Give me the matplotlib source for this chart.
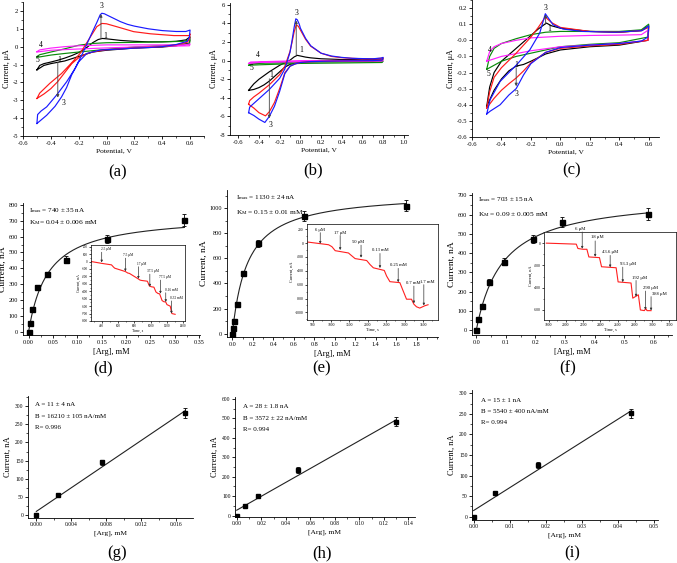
import matplotlib
matplotlib.use('Agg')
import matplotlib.pyplot as plt
import numpy as np
from matplotlib.ticker import AutoMinorLocator, FormatStrFormatter

plt.rcParams['font.family'] = ['Liberation Serif', 'DejaVu Serif']
plt.rcParams['mathtext.fontset'] = 'custom'
plt.rcParams['mathtext.rm'] = 'Liberation Serif'
plt.rcParams['mathtext.it'] = 'Liberation Serif:italic'
plt.rcParams['axes.unicode_minus'] = False

# ---------------- DATA ----------------
# (a) cyclic voltammograms, potential V / current uA (closed loops: forward then reverse)
a_blue_E = [-0.5, -0.495, -0.47, -0.43, -0.36, -0.287, -0.226, -0.166, -0.106, -0.07, -0.046, -0.034, -0.015, 0.0, 0.05, 0.1, 0.15, 0.2, 0.3, 0.4, 0.5, 0.57, 0.6,
            0.595, 0.58, 0.5, 0.4, 0.3, 0.2, 0.1, 0.0, -0.046, -0.142, -0.2, -0.25, -0.287, -0.323, -0.37, -0.43, -0.5]
a_blue_I = [-4.3, -3.8, -3.6, -3.37, -2.72, -1.97, -1.22, -0.28, 0.75, 1.35, 1.78, 1.87, 1.84, 1.78, 1.59, 1.4, 1.25, 1.15, 1.0, 0.9, 0.85, 0.85, 0.93,
            0.55, 0.3, 0.12, 0.0, -0.05, -0.08, -0.13, -0.17, -0.19, -0.38, -0.85, -1.57, -2.29, -2.81, -3.34, -3.84, -4.3]
a_red_E = [-0.5, -0.48, -0.407, -0.323, -0.25, -0.19, -0.13, -0.07, -0.034, 0.0, 0.072, 0.195, 0.316, 0.484, 0.593, 0.6,
           0.595, 0.58, 0.5, 0.4, 0.2, 0.0, -0.1, -0.15, -0.2, -0.25, -0.3, -0.35, -0.4, -0.45, -0.5]
a_red_I = [-2.9, -2.6, -2.05, -1.5, -0.9, -0.38, 0.37, 1.12, 1.3, 1.28, 1.12, 0.84, 0.72, 0.62, 0.62, 0.72,
           0.4, 0.25, 0.1, 0.0, -0.07, -0.17, -0.3, -0.42, -0.62, -0.95, -1.45, -1.95, -2.35, -2.65, -2.9]
a_black_E = [-0.5, -0.48, -0.45, -0.4, -0.35, -0.3, -0.25, -0.2, -0.15, -0.1, -0.06, -0.03, 0.0, 0.1, 0.2, 0.3, 0.4, 0.5, 0.57, 0.6,
             0.595, 0.5, 0.4, 0.2, 0.0, -0.1, -0.2, -0.3, -0.4, -0.45, -0.5]
a_black_I = [-1.3, -1.05, -0.95, -0.86, -0.76, -0.64, -0.5, -0.33, -0.1, 0.22, 0.4, 0.46, 0.44, 0.35, 0.3, 0.27, 0.27, 0.3, 0.38, 0.55,
             0.2, 0.05, -0.02, -0.08, -0.2, -0.3, -0.55, -0.8, -0.95, -1.05, -1.3]
a_green_E = [-0.5, -0.48, -0.4, -0.3, -0.2, -0.1, 0.0, 0.2, 0.4, 0.55, 0.6,
             0.595, 0.5, 0.4, 0.2, 0.0, -0.2, -0.3, -0.4, -0.5]
a_green_I = [-0.55, -0.45, -0.3, -0.12, 0.08, 0.18, 0.22, 0.24, 0.27, 0.3, 0.38,
             0.15, 0.1, 0.06, -0.02, -0.15, -0.3, -0.38, -0.47, -0.6]
a_mag_E = [-0.5, -0.48, -0.4, -0.3, -0.2, 0.0, 0.2, 0.4, 0.55, 0.6,
           0.595, 0.4, 0.2, 0.0, -0.2, -0.4, -0.5]
a_mag_I = [-0.28, -0.18, -0.08, 0.0, 0.05, 0.1, 0.1, 0.1, 0.1, 0.15,
           0.05, 0.02, -0.02, -0.07, -0.13, -0.2, -0.3]

# (b)
b_blue_E = [-0.5, -0.49, -0.45, -0.4, -0.3, -0.2, -0.15, -0.1, -0.08, -0.06, -0.044, -0.03, -0.01, 0.0, 0.05, 0.1, 0.2, 0.3, 0.4, 0.5, 0.6, 0.7, 0.78, 0.8,
            0.79, 0.7, 0.5, 0.3, 0.1, 0.0, -0.05, -0.1, -0.15, -0.2, -0.25, -0.3, -0.343, -0.4, -0.45, -0.5]
b_blue_I = [-5.6, -5.0, -4.6, -4.1, -3.1, -1.9, -0.9, 0.9, 2.2, 3.6, 4.5, 4.4, 3.9, 3.5, 2.4, 1.6, 0.8, 0.5, 0.35, 0.25, 0.22, 0.2, 0.28, 0.35,
            0.05, 0.0, -0.02, -0.05, -0.1, -0.2, -0.35, -0.6, -1.4, -3.3, -4.9, -6.0, -6.65, -6.3, -5.9, -5.6]
b_red_E = [-0.5, -0.49, -0.45, -0.4, -0.3, -0.2, -0.15, -0.1, -0.08, -0.06, -0.04, -0.02, 0.0, 0.05, 0.1, 0.2, 0.3, 0.4, 0.5, 0.6, 0.7, 0.78, 0.8,
           0.79, 0.7, 0.5, 0.3, 0.1, 0.0, -0.05, -0.1, -0.15, -0.2, -0.25, -0.3, -0.337, -0.4, -0.45, -0.5]
b_red_I = [-4.7, -4.3, -3.9, -3.5, -2.6, -1.5, -0.6, 1.0, 2.0, 3.1, 3.84, 3.7, 3.3, 2.3, 1.55, 0.8, 0.45, 0.32, 0.25, 0.2, 0.2, 0.25, 0.3,
           0.05, 0.0, -0.02, -0.05, -0.1, -0.2, -0.35, -0.6, -1.3, -3.0, -4.5, -5.5, -5.94, -5.6, -5.1, -4.7]
b_black_E = [-0.5, -0.48, -0.45, -0.4, -0.3, -0.2, -0.1, -0.06, -0.03, 0.0, 0.05, 0.1, 0.2, 0.4, 0.6, 0.78, 0.8,
             0.79, 0.6, 0.4, 0.2, 0.0, -0.1, -0.15, -0.2, -0.25, -0.3, -0.35, -0.4, -0.45, -0.5]
b_black_I = [-3.2, -2.9, -2.5, -2.0, -1.2, -0.5, 0.05, 0.4, 0.57, 0.5, 0.38, 0.3, 0.2, 0.12, 0.1, 0.15, 0.2,
             0.0, -0.02, -0.05, -0.08, -0.15, -0.4, -0.7, -1.2, -1.7, -2.2, -2.6, -2.9, -3.1, -3.2]
b_green_E = [-0.5, -0.48, -0.4, 0.0, 0.4, 0.78, 0.8, 0.79, 0.4, 0.0, -0.4, -0.5]
b_green_I = [-0.5, -0.35, -0.3, -0.15, -0.1, -0.08, -0.05, -0.2, -0.25, -0.3, -0.45, -0.5]
b_mag_E = [-0.5, -0.48, 0.0, 0.4, 0.8, 0.79, 0.4, 0.0, -0.4, -0.5]
b_mag_I = [-0.3, -0.15, 0.0, 0.02, 0.05, -0.05, -0.08, -0.12, -0.2, -0.3]

# (c)
c_blue_E = [-0.5, -0.477, -0.409, -0.297, -0.207, -0.14, -0.102, -0.05, 0.017, 0.151, 0.376, 0.555, 0.6,
            0.595, 0.55, 0.4, 0.2, 0.0, -0.1, -0.2, -0.25, -0.3, -0.35, -0.409, -0.477, -0.5]
c_blue_I = [-0.457, -0.369, -0.255, -0.152, -0.059, 0.045, 0.165, 0.097, 0.07, 0.055, 0.05, 0.06, 0.09,
            0.02, -0.005, -0.02, -0.03, -0.045, -0.075, -0.145, -0.215, -0.3, -0.34, -0.4, -0.44, -0.457]
c_red_E = [-0.5, -0.48, -0.45, -0.4, -0.3, -0.2, -0.15, -0.102, -0.06, 0.0, 0.2, 0.4, 0.55, 0.6,
           0.595, 0.4, 0.2, 0.0, -0.1, -0.2, -0.25, -0.3, -0.35, -0.4, -0.45, -0.5]
c_red_I = [-0.42, -0.32, -0.23, -0.17, -0.08, 0.02, 0.08, 0.144, 0.11, 0.08, 0.055, 0.05, 0.06, 0.08,
           0.0, -0.025, -0.035, -0.05, -0.075, -0.14, -0.19, -0.234, -0.27, -0.31, -0.36, -0.42]
c_black_E = [-0.5, -0.48, -0.45, -0.4, -0.3, -0.2, -0.15, -0.095, -0.06, 0.0, 0.2, 0.4, 0.55, 0.6,
             0.595, 0.4, 0.2, 0.0, -0.1, -0.2, -0.25, -0.3, -0.35, -0.4, -0.45, -0.5]
c_black_I = [-0.41, -0.29, -0.2, -0.13, -0.05, 0.03, 0.07, 0.107, 0.09, 0.075, 0.055, 0.05, 0.06, 0.09,
             0.0, -0.03, -0.04, -0.06, -0.085, -0.13, -0.15, -0.16, -0.19, -0.24, -0.31, -0.41]
c_green_E = [-0.5, -0.48, -0.45, -0.4, -0.3, -0.2, -0.1, 0.0, 0.2, 0.4, 0.55, 0.6,
             0.595, 0.4, 0.2, 0.0, -0.1, -0.2, -0.3, -0.4, -0.5]
c_green_I = [-0.18, -0.1, -0.05, -0.02, 0.01, 0.035, 0.05, 0.055, 0.055, 0.055, 0.065, 0.1,
             0.02, -0.015, -0.025, -0.04, -0.06, -0.08, -0.1, -0.13, -0.18]
c_mag_E = [-0.5, -0.48, -0.45, -0.4, -0.3, -0.2, 0.0, 0.2, 0.4, 0.55, 0.6,
           0.595, 0.4, 0.2, 0.0, -0.2, -0.4, -0.5]
c_mag_I = [-0.13, -0.07, -0.04, -0.02, 0.0, 0.015, 0.025, 0.03, 0.032, 0.035, 0.065,
           0.0, -0.02, -0.03, -0.04, -0.065, -0.1, -0.13]

# (d)-(f) calibration curves: [Arg] mM / current nA / error nA, fit parameters
d_conc = [0, 0.0025, 0.0075, 0.0175, 0.0375, 0.0775, 0.16, 0.32]
d_curr = [0, 55, 145, 280, 365, 455, 585, 705]
d_err = [5, 8, 8, 12, 12, 20, 25, 35]
d_imax, d_km = 740, 0.04
e_conc = [0, 0.006, 0.02, 0.05, 0.1, 0.25, 0.7, 1.7]
e_curr = [0, 45, 100, 235, 480, 720, 940, 1020]
e_err = [5, 8, 8, 10, 15, 30, 40, 45]
e_imax, e_km = 1130, 0.15
f_conc = [0, 0.006, 0.018, 0.0436, 0.0933, 0.192, 0.29, 0.58]
f_curr = [0, 57, 124, 250, 354, 472, 561, 604]
f_err = [5, 6, 8, 15, 18, 22, 28, 30]
f_imax, f_km = 703, 0.09

# insets: amperometric responses, time s / current nA
d_time = [270, 400, 520, 545, 560, 690, 720, 740, 850, 870, 890, 960, 985, 1010, 1040, 1065, 1090, 1110, 1140, 1160, 1185, 1200, 1240, 1260, 1300]
d_resp = [0, -25, -45, -75, -90, -135, -155, -160, -235, -250, -255, -265, -330, -340, -345, -410, -430, -435, -525, -540, -545, -580, -600, -700, -710]
d_steps = ['2.5 μM', '7.5 μM', '17 μM', '37.5 μM', '77.5 μM', '0.16 mM', '0.32 mM']
e_time = [374, 932, 1023, 1113, 1473, 1545, 1653, 1968, 2059, 2149, 2446, 2509, 2599, 2869, 2941, 3050, 3185, 3248, 3320, 3410, 3545, 3635]
e_resp = [14, -24, -52, -110, -143, -176, -224, -252, -310, -357, -395, -476, -557, -571, -667, -810, -810, -881, -919, -938, -905, -890]
e_steps = ['6 μM', '17 μM', '50 μM', '0.13 mM', '0.25 mM', '0.7 mM', '1.7 mM']
f_time = [1773, 2120, 2139, 2197, 2243, 2266, 2389, 2413, 2582, 2605, 2755, 2775, 2840, 2863, 2910, 2925, 2940, 2987]
f_resp = [0, -9, -48, -55, -55, -124, -130, -212, -221, -348, -358, -494, -464, -600, -606, -585, -606, -606]
f_steps = ['6 μM', '18 μM', '43.6 μM', '93.3 μM', '192 μM', '290 μM', '388 μM']

# (g)-(i) linear ranges
g_conc = [0, 0.0025, 0.0075, 0.017]
g_curr = [0, 55, 146, 280]
g_err = [3, 3, 7, 13]
g_A, g_B = 11, 16210
h_conc = [0, 0.0065, 0.017, 0.05, 0.13]
h_curr = [0, 51, 101, 235, 484]
h_err = [3, 4, 5, 15, 22]
h_A, h_B = 28, 3572
i_conc = [0, 0.006, 0.018, 0.0436]
i_curr = [0, 57, 126, 251]
i_err = [2, 3, 7, 12]
i_A, i_B = 15, 5540

# ---------------- FIGURE ----------------
W, H = 677, 563
fig = plt.figure(figsize=(W / 100, H / 100), dpi=100)


def box(l, t, r, b):
    return [l / W, 1 - b / H, (r - l) / W, (b - t) / H]


def style(ax, fs, lw=0.6, tl=2.5, box_all=False):
    if not box_all:
        ax.spines['top'].set_visible(False)
        ax.spines['right'].set_visible(False)
    for s in ax.spines.values():
        s.set_linewidth(lw)
    ax.tick_params(direction='out', labelsize=fs, length=tl, width=lw, pad=1.2)
    ax.tick_params(which='minor', direction='out', length=tl * 0.55, width=lw * 0.8)
    ax.xaxis.set_minor_locator(AutoMinorLocator(2))
    ax.yaxis.set_minor_locator(AutoMinorLocator(2))


BLUE, RED, BLACK, GREEN, MAG = '#1a1aff', '#ff1a1a', 'black', '#0a8a0a', '#ff22ff'


def cv_panel(rect, curves, xlim, ylim, xt, yt, fmtx, fmty, labels, arrows):
    ax = fig.add_axes(box(*rect))
    for E, I, c in curves:
        ax.plot(E, I, color=c, lw=0.85)
    ax.set_xlim(*xlim)
    ax.set_ylim(*ylim)
    ax.set_xticks(xt)
    ax.set_yticks(yt)
    ax.xaxis.set_major_formatter(FormatStrFormatter(fmtx))
    ax.yaxis.set_major_formatter(FormatStrFormatter(fmty))
    style(ax, 4.8, tl=2.2)
    ax.set_xlabel('Potential, V', fontsize=5.4, labelpad=2)
    ax.set_ylabel('Current, μA', fontsize=5.8, labelpad=1.5)
    for txt, x, y in labels:
        ax.text(x, y, txt, fontsize=5.5, ha='center', va='center')
    for x0, y0, x1, y1 in arrows:
        ax.annotate('', xy=(x1, y1), xytext=(x0, y0),
                    arrowprops=dict(arrowstyle='-|>', lw=0.6, color='#444444', mutation_scale=4, shrinkA=0, shrinkB=0))
    return ax


cv_panel((23, 2, 204, 136),
         [(a_black_E, a_black_I, BLACK), (a_green_E, a_green_I, GREEN), (a_mag_E, a_mag_I, MAG),
          (a_red_E, a_red_I, RED), (a_blue_E, a_blue_I, BLUE)],
         (-0.6, 0.7), (-5, 2.5), np.arange(-0.6, 0.61, 0.2), np.arange(-5, 2.1, 1), '%.1f', '%d',
         [('3', -0.035, 2.25), ('1', -0.01, 0.62), ('4', -0.47, 0.12), ('5', -0.5, -0.72),
          ('1', -0.34, -0.72), ('3', -0.31, -3.15)],
         [(-0.04, 0.45, -0.04, 1.82), (-0.35, -0.88, -0.35, -2.85)])

cv_panel((230, 3, 408, 135),
         [(b_black_E, b_black_I, BLACK), (b_green_E, b_green_I, GREEN), (b_mag_E, b_mag_I, MAG),
          (b_red_E, b_red_I, RED), (b_blue_E, b_blue_I, BLUE)],
         (-0.68, 1.04), (-8, 6.2), np.arange(-0.6, 1.01, 0.2), np.arange(-8, 6.1, 2), '%.1f', '%d',
         [('3', -0.037, 5.1), ('1', 0.01, 1.17), ('4', -0.41, 0.57), ('5', -0.47, -0.78),
          ('1', -0.285, -1.57), ('3', -0.285, -6.95)],
         [(-0.04, 0.6, -0.04, 4.3), (-0.3, -1.95, -0.3, -6.2)])

cv_panel((472, 0, 659, 137),
         [(c_black_E, c_black_I, BLACK), (c_green_E, c_green_I, GREEN), (c_mag_E, c_mag_I, MAG),
          (c_red_E, c_red_I, RED), (c_blue_E, c_blue_I, BLUE)],
         (-0.6, 0.67), (-0.6, 0.25), np.arange(-0.6, 0.61, 0.2), np.arange(-0.6, 0.21, 0.1), '%.1f', '%.1f',
         [('3', -0.1, 0.2), ('1', -0.075, 0.07), ('4', -0.48, -0.063), ('5', -0.49, -0.207),
          ('1', -0.3, -0.155), ('3', -0.3, -0.333)],
         [(-0.1, 0.1, -0.1, 0.16), (-0.3, -0.17, -0.3, -0.285)])


def mm_panel(rect, conc, curr, err, imax, km, xlim, ylim, xt, yt, fmtx, txt_pos, imax_txt, km_txt, gap):
    ax = fig.add_axes(box(*rect))
    xs = np.linspace(0, conc[-1], 200)
    ax.plot(xs, imax * xs / (km + xs), color='#222222', lw=0.8)
    ax.errorbar(conc, curr, yerr=err, fmt='s', color='black', ms=3.6, capsize=1.6,
                elinewidth=0.6, capthick=0.6)
    ax.set_xlim(*xlim)
    ax.set_ylim(*ylim)
    ax.set_xticks(xt)
    ax.set_yticks(yt)
    ax.xaxis.set_major_formatter(FormatStrFormatter(fmtx))
    style(ax, 4.4, tl=2.3)
    ax.set_xlabel('[Arg], mM', fontsize=6, labelpad=2)
    ax.set_ylabel('Current, nA', fontsize=6.8, labelpad=1.5)
    tx, ty = txt_pos
    fig.text(tx / W, 1 - ty / H, imax_txt, fontsize=5.1, va='center')
    fig.text(tx / W, 1 - (ty + gap) / H, km_txt, fontsize=5.3, va='center')
    return ax


def inset(rect, t, r, xlim, ylim, xt, yt, steps, arrow_x, arrow_y0, arrow_y1, lab_xy, fs, lfs):
    ax = fig.add_axes(box(*rect))
    ax.plot(t, r, color='#ff2020', lw=0.8)
    ax.set_xlim(*xlim)
    ax.set_ylim(*ylim)
    ax.set_xticks(xt)
    ax.set_yticks(yt)
    style(ax, fs, lw=0.5, tl=1.5, box_all=True)
    ax.tick_params(pad=0.8)
    ax.set_xlabel('Time, s', fontsize=fs + 0.4, labelpad=0.8)
    ax.set_ylabel('Current, nA', fontsize=fs + 0.4, labelpad=0.8)
    for s, x, y0, y1, (lx, ly) in zip(steps, arrow_x, arrow_y0, arrow_y1, lab_xy):
        ax.annotate('', xy=(x, y1), xytext=(x, y0),
                    arrowprops=dict(arrowstyle='-|>', lw=0.5, color='#333333', mutation_scale=3, shrinkA=0, shrinkB=0))
        ax.text(lx, ly, s, fontsize=lfs, ha='left', va='bottom', clip_on=False)
    return ax


mm_panel((23, 203, 200, 335), d_conc, d_curr, d_err, d_imax, d_km, (-0.0115, 0.352), (-21, 812),
         np.arange(0, 0.351, 0.05), np.arange(0, 801, 100), '%.2f', (29, 211),
         r'I$_{\rm max}$ = 740 ± 35 nA', r'K$_{\rm M}$= 0.04 ± 0.006 mM', 12)
inset((91, 245, 185, 321), d_time, d_resp, (269, 1421), (-800, 222), np.arange(400, 1401, 200),
      np.arange(-800, 201, 100), d_steps,
      [400, 690, 850, 990, 1120, 1185, 1255], [125, 45, -70, -170, -250, -420, -530],
      [-12, -132, -232, -338, -432, -545, -700],
      [(390, 135), (660, 55), (830, -60), (960, -160), (1100, -240), (1180, -410), (1240, -520)], fs=2.3, lfs=2.5)

mm_panel((227, 190, 438, 337), e_conc, e_curr, e_err, e_imax, e_km, (-0.052, 2.01), (-27, 1146),
         np.arange(0, 1.81, 0.2), np.arange(0, 1001, 200), '%.1f', (236, 198),
         r'I$_{\rm max}$ = 1130 ± 24 nA', r'K$_{\rm M}$ = 0.15 ± 0.01 mM', 15)
inset((307, 224, 438, 320), e_time, e_resp, (347, 3905), (-1110, 275), np.arange(500, 3501, 500),
      np.arange(-1000, 201, 200), e_steps,
      [707, 1248, 1815, 2329, 2824, 3250, 3520], [150, 110, -30, -150, -365, -620, -600],
      [-10, -100, -210, -360, -565, -870, -900],
      [(560, 165), (1070, 120), (1560, -10), (2100, -135), (2600, -350), (3030, -610), (3420, -590)],
      fs=2.7, lfs=3.3)

mm_panel((472, 193, 672, 335), f_conc, f_curr, f_err, f_imax, f_km, (-0.0146, 0.662), (-26, 712),
         np.arange(0, 0.61, 0.1), np.arange(0, 701, 100), '%.1f', (478, 200),
         r'I$_{\rm max}$ = 703 ± 15 nA', r'K$_{\rm M}$ = 0.09 ± 0.005 mM', 15)
inset((544, 232, 676, 320), f_time, f_resp, (1746, 3276), (-690, 100), np.arange(1800, 3201, 200),
      np.arange(-600, 1, 200), f_steps,
      [2189, 2339, 2513, 2659, 2813, 2921, 2987], [100, 20, -110, -215, -335, -430, -480],
      [-50, -122, -217, -350, -480, -598, -604],
      [(2110, 112), (2290, 36), (2415, -94), (2630, -206), (2765, -327), (2890, -424), (2995, -479)],
      fs=2.7, lfs=3.4)


def lin_panel(rect, conc, curr, err, A, B, xlim, ylim, xt, yt, fmtx, txt_pos, texts):
    ax = fig.add_axes(box(*rect))
    xs = np.array([0, conc[-1]])
    ax.plot(xs, A + B * xs, color='#222222', lw=0.8)
    ax.errorbar(conc, curr, yerr=err, fmt='s', color='black', ms=3.0, capsize=1.4,
                elinewidth=0.6, capthick=0.6)
    ax.set_xlim(*xlim)
    ax.set_ylim(*ylim)
    ax.set_xticks(xt)
    ax.set_yticks(yt)
    ax.xaxis.set_major_formatter(FormatStrFormatter(fmtx))
    style(ax, 4.0, tl=2.0)
    ax.set_xlabel('[Arg], mM', fontsize=5.4, labelpad=2)
    ax.set_ylabel('Current, nA', fontsize=6.0, labelpad=2)
    tx, ty = txt_pos
    for k, t in enumerate(texts):
        fig.text(tx / W, 1 - (ty + 11.3 * k) / H, t, fontsize=5.0, va='center')
    return ax


lin_panel((28, 396, 193, 518), g_conc, g_curr, g_err, g_A, g_B, (-0.00095, 0.0179), (-7, 327),
          np.arange(0, 0.0161, 0.004), np.arange(0, 301, 50), '%.3f', (35, 405),
          ['A = 11 ± 4 nA', 'B = 16210 ± 105 nA/mM', 'R= 0.996'])
lin_panel((235, 397, 415, 517), h_conc, h_curr, h_err, h_A, h_B, (-0.0014, 0.1454), (-7, 610),
          np.arange(0, 0.141, 0.02), np.arange(0, 601, 100), '%.2f', (243, 407),
          ['A = 28 ± 1.8 nA', 'B = 3572 ± 22 nA/mM', 'R= 0.994'])
lin_panel((472, 390, 658, 520), i_conc, i_curr, i_err, i_A, i_B, (-0.00044, 0.0512), (-8, 308),
          np.arange(0, 0.051, 0.01), np.arange(0, 301, 50), '%.2f', (481, 400),
          ['A = 15 ± 1 nA', 'B = 5540 ± 400 nA/mM', 'R= 0.994'])

# panel letters
for lab, x, y in [('(a)', 118, 172), ('(b)', 313, 170), ('(c)', 572, 170),
                  ('(d)', 103, 368), ('(e)', 322, 368), ('(f)', 568, 368),
                  ('(g)', 117, 553), ('(h)', 322, 553), ('(i)', 572, 553)]:
    fig.text(x / W, 1 - y / H, lab, fontsize=12, ha='center', va='center')

fig.savefig('out.png', dpi=100)
